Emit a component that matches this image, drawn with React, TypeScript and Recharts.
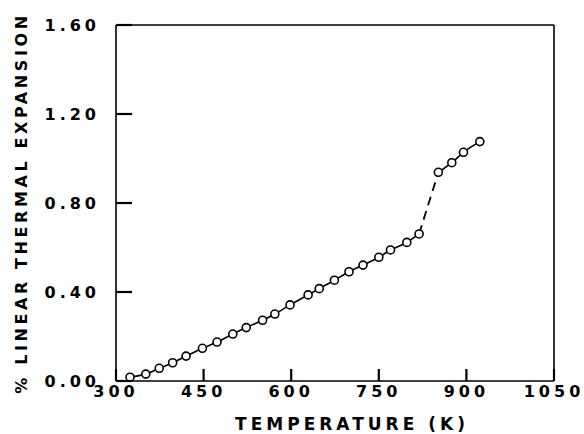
import React from 'react';
import { Line, LineChart, XAxis, YAxis } from 'recharts';

// temperature (K) and % linear expansion
const lowTemps = [324, 351, 374, 397, 420, 448, 473, 500, 523, 551, 572, 598, 629, 648, 674, 699, 723, 750, 770, 798, 819];
const lowValues = [0.017, 0.031, 0.057, 0.082, 0.112, 0.147, 0.175, 0.211, 0.24, 0.273, 0.301, 0.342, 0.387, 0.415, 0.453, 0.491, 0.521, 0.556, 0.589, 0.623, 0.661];
const highTemps = [852, 875, 895, 923];
const highValues = [0.938, 0.981, 1.028, 1.076];
const xTicks = [300, 450, 600, 750, 900, 1050];
const yTicks = [0, 0.4, 0.8, 1.2, 1.6];

const lowData = lowTemps.map((t, i) => ({ t, v: lowValues[i] }));
const highData = highTemps.map((t, i) => ({ t, v: highValues[i] }));
// dashed transition joins last low point to first high point
const jumpData = [lowData[lowData.length - 1], highData[0]];

const font = 'DejaVu Sans';
const textStyle = { fill: '#000', fontFamily: font, fontWeight: 'bold' as const };
const dot = { r: 4, fill: '#fff', stroke: '#000', strokeWidth: 1.6 };
const X_TICK = 12;
const Y_TICK = 16;

// axes are mirrored so ticks sit inside the frame; the tick component draws the
// inward mark itself and puts the label back outside the axis
const XTick = ({ x, y, payload }: any) => (
  <g>
    <line x1={x} x2={x} y1={y} y2={y + X_TICK} stroke="black" strokeWidth={2.2} />
    <text x={x} y={y + 28} textAnchor="middle" fontSize={16} letterSpacing={4} {...textStyle}>
      {payload.value}
    </text>
  </g>
);

const YTick = ({ x, y, payload }: any) => (
  <g>
    <line x1={x - Y_TICK} x2={x} y1={y} y2={y} stroke="black" strokeWidth={2.2} />
    <text x={x - 32} y={y} textAnchor="end" dominantBaseline="central" fontSize={16} letterSpacing={4} {...textStyle}>
      {Number(payload.value).toFixed(2)}
    </text>
  </g>
);

const App = () => {
  return (
    <div style={{ position: 'absolute', left: 0, top: 0, width: 584, height: 434, background: '#fff' }}>
      <LineChart width={584} height={434} margin={{ top: 25, right: 30, left: 116, bottom: 53 }}>
        <XAxis
          xAxisId="b"
          dataKey="t"
          type="number"
          domain={[300, 1050]}
          ticks={xTicks}
          mirror
          tickSize={X_TICK}
          tickMargin={0}
          tickLine={false}
          tick={<XTick />}
          stroke="#000"
          strokeWidth={1.6}
        />
        <XAxis xAxisId="t" orientation="top" mirror dataKey="t" type="number" domain={[300, 1050]} tick={false} tickLine={false} stroke="#000" strokeWidth={1.6} />
        <YAxis
          yAxisId="l"
          type="number"
          domain={[0, 1.6]}
          ticks={yTicks}
          mirror
          tickSize={Y_TICK}
          tickMargin={0}
          tickLine={false}
          tick={<YTick />}
          stroke="#000"
          strokeWidth={1.6}
        />
        <YAxis yAxisId="r" orientation="right" mirror type="number" domain={[0, 1.6]} tick={false} tickLine={false} stroke="#000" strokeWidth={1.6} />
        <Line
          xAxisId="b"
          yAxisId="l"
          data={jumpData}
          dataKey="v"
          type="linear"
          stroke="#000"
          strokeWidth={1.8}
          strokeDasharray="9 6"
          dot={false}
          isAnimationActive={false}
        />
        <Line xAxisId="b" yAxisId="l" data={lowData} dataKey="v" type="monotone" stroke="#000" strokeWidth={1.6} dot={dot} isAnimationActive={false} />
        <Line xAxisId="b" yAxisId="l" data={highData} dataKey="v" type="monotone" stroke="#000" strokeWidth={1.6} dot={dot} isAnimationActive={false} />
      </LineChart>
      <svg width={584} height={434} style={{ position: 'absolute', left: 0, top: 0, pointerEvents: 'none' }}>
        <text x={352} y={430} textAnchor="middle" fontSize={17} letterSpacing={4} {...textStyle}>
          TEMPERATURE (K)
        </text>
        <text
          x={21}
          y={203}
          transform="rotate(-90 21 203)"
          textAnchor="middle"
          dominantBaseline="central"
          fontSize={16}
          letterSpacing={3.6}
          {...textStyle}
        >
          % LINEAR THERMAL EXPANSION
        </text>
      </svg>
    </div>
  );
};

export default App;
